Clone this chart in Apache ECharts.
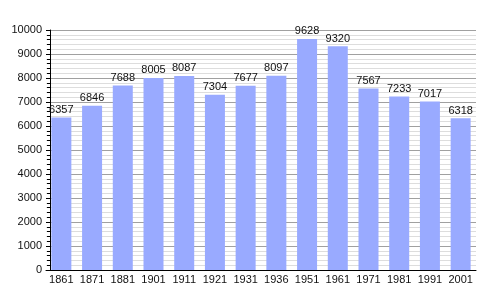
<!DOCTYPE html>
<html>
<head>
<meta charset="utf-8">
<script src="https://cdn.jsdelivr.net/npm/echarts@6/dist/echarts.min.js"></script>
<style>html,body{margin:0;padding:0;background:#fff}#c{width:500px;height:300px}</style>
</head>
<body>
<div id="c"></div>
<script>
const categories = ['1861','1871','1881','1901','1911','1921','1931','1936','1951','1961','1971','1981','1991','2001'];
const population = [6357,6846,7688,8005,8087,7304,7677,8097,9628,9320,7567,7233,7017,6318];
const yTicks = [0,1000,2000,3000,4000,5000,6000,7000,8000,9000,10000];

const chart = echarts.init(document.getElementById('c'), null, {renderer:'canvas'});
chart.setOption({
  backgroundColor:'#fff',
  animation:false,
  grid:{left:46, right:24, top:30, bottom:30},
  xAxis:{
    type:'category',
    data:categories,
    axisLine:{lineStyle:{color:'#000',width:1}},
    axisTick:{show:false},
    axisLabel:{interval:0, color:'#111', fontFamily:'Liberation Sans, Arial, sans-serif', fontSize:11, margin:4}
  },
  yAxis:{
    type:'value',
    min:yTicks[0], max:yTicks[yTicks.length-1], interval:1000,
    offset:-4,
    axisLine:{show:true, lineStyle:{color:'#000',width:1}},
    axisTick:{show:true, inside:false, length:4, lineStyle:{color:'#000'}},
    minorTick:{show:true, splitNumber:5, length:3, lineStyle:{color:'#000'}},
    splitLine:{show:true, lineStyle:{color:'#a0a0a0', width:1}},
    minorSplitLine:{show:true, lineStyle:{color:'#dddddd', width:1}},
    axisLabel:{color:'#111', fontFamily:'Liberation Sans, Arial, sans-serif', fontSize:11, margin:8,
      formatter: v => String(v)}
  },
  series:[{
    type:'bar',
    data:population,
    barWidth:20,
    itemStyle:{color:'#99aaff'},
    label:{show:true, position:'top', distance:2, color:'#111', fontFamily:'Liberation Sans, Arial, sans-serif', fontSize:11}
  }]
});
</script>
</body>
</html>
